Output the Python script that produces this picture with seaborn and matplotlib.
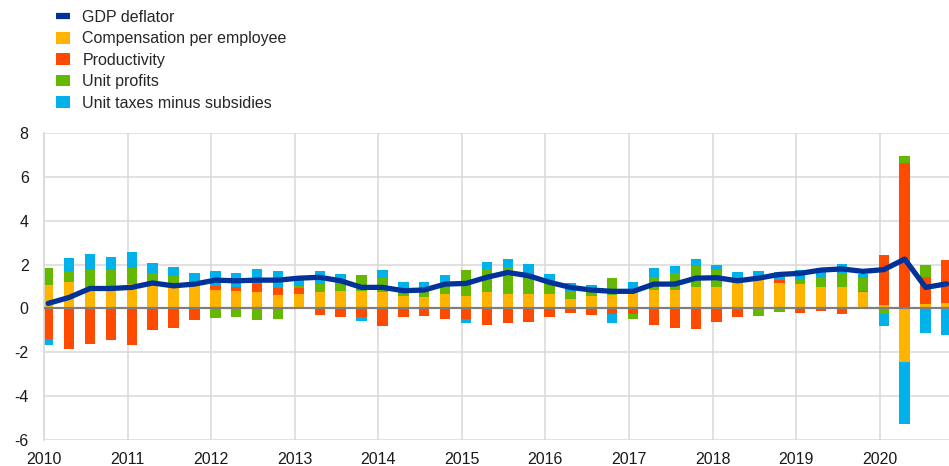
import numpy as np
import pandas as pd
import matplotlib
matplotlib.use("Agg")
import matplotlib.pyplot as plt
import seaborn as sns
from matplotlib.lines import Line2D
from matplotlib.patches import Patch

# quarterly data 2010Q1 - 2020Q4
years = list(range(2010, 2021))
quarters = [f"{y}Q{q}" for y in years for q in range(1, 5)]

gdp_deflator = [0.23, 0.50, 0.91, 0.91, 0.96, 1.16, 1.03, 1.11,
                1.29, 1.26, 1.29, 1.29, 1.38, 1.42, 1.26, 0.96,
                0.96, 0.81, 0.84, 1.11, 1.14, 1.42, 1.64, 1.49,
                1.19, 0.96, 0.84, 0.78, 0.78, 1.11, 1.11, 1.38,
                1.40, 1.26, 1.38, 1.55, 1.60, 1.75, 1.80, 1.69,
                1.77, 2.25, 0.96, 1.12]

compensation = [1.08, 1.22, 1.00, 0.95, 1.11, 1.05, 1.00, 1.10,
                0.84, 0.78, 0.76, 0.62, 0.68, 0.73, 0.81, 0.78,
                0.73, 0.58, 0.53, 0.65, 0.58, 0.73, 0.65, 0.65,
                0.65, 0.43, 0.58, 0.63, 0.73, 0.85, 0.85, 1.00,
                0.96, 1.15, 1.30, 1.16, 1.11, 1.00, 0.96, 0.73,
                0.15, -2.43, 0.20, 0.27]

productivity = [-1.40, -1.83, -1.60, -1.46, -1.66, -0.97, -0.90, -0.52,
                0.19, 0.22, 0.35, 0.31, 0.25, -0.30, -0.38, -0.38,
                -0.79, -0.41, -0.35, -0.46, -0.46, -0.76, -0.68, -0.61,
                -0.41, -0.23, -0.29, -0.26, -0.26, -0.75, -0.90, -0.92,
                -0.62, -0.41, 0.00, 0.12, -0.19, -0.14, -0.27, 0.08,
                2.29, 6.62, 1.25, 1.93]

unit_profits = [0.76, 0.50, 0.77, 0.80, 0.73, 0.55, 0.46, 0.00,
                -0.43, -0.38, -0.53, -0.46, 0.10, 0.38, 0.33, 0.73,
                0.64, 0.20, 0.25, 0.46, 1.17, 1.02, 1.22, 0.89,
                0.46, 0.38, 0.20, 0.76, -0.24, 0.57, 0.75, 0.92,
                0.79, 0.05, -0.35, -0.15, 0.18, 0.42, 0.64, 0.56,
                -0.26, 0.31, 0.53, -0.05]

unit_taxes = [-0.27, 0.58, 0.71, 0.61, 0.72, 0.49, 0.44, 0.51,
              0.66, 0.61, 0.67, 0.76, 0.39, 0.58, 0.43, -0.21,
              0.38, 0.41, 0.41, 0.43, -0.21, 0.37, 0.38, 0.48,
              0.46, 0.33, 0.29, -0.39, 0.49, 0.41, 0.35, 0.34,
              0.24, 0.45, 0.40, 0.36, 0.46, 0.41, 0.42, 0.22,
              -0.56, -2.85, -1.10, -1.17]

components = ["Compensation per employee", "Productivity", "Unit profits",
              "Unit taxes minus subsidies"]
colors = {"GDP deflator": "#003299",
          "Compensation per employee": "#FFB400",
          "Productivity": "#FF4B00",
          "Unit profits": "#65B800",
          "Unit taxes minus subsidies": "#00B1EA"}

df = pd.DataFrame({"quarter": quarters,
                   "GDP deflator": gdp_deflator,
                   "Compensation per employee": compensation,
                   "Productivity": productivity,
                   "Unit profits": unit_profits,
                   "Unit taxes minus subsidies": unit_taxes})
# decimal-year position of each quarter (bars sit just right of the year line)
df["x"] = [int(q[:4]) + (int(q[-1]) - 1) * 0.25 + 0.05 for q in df["quarter"]]

sns.set_theme(style="whitegrid")
plt.rcParams["font.family"] = ["Liberation Sans", "DejaVu Sans"]
plt.rcParams["axes.unicode_minus"] = False

fig = plt.figure(figsize=(9.49, 4.66), dpi=100)
ax = fig.add_axes([44 / 949, 1 - 440 / 466, 1 - 44 / 949, (440 - 133) / 466])

# stacked bars, positives and negatives stacked separately
pos_bottom = np.zeros(len(df))
neg_bottom = np.zeros(len(df))
for comp in components:
    vals = df[comp].to_numpy()
    pos = np.where(vals > 0, vals, 0)
    neg = np.where(vals < 0, vals, 0)
    ax.bar(df["x"], pos, bottom=pos_bottom, width=0.125, color=colors[comp],
           linewidth=0, zorder=2)
    ax.bar(df["x"], neg, bottom=neg_bottom, width=0.125, color=colors[comp],
           linewidth=0, zorder=2)
    pos_bottom += pos
    neg_bottom += neg

ax.axhline(0, color="#7f7f7f", lw=1.6, zorder=3)

sns.lineplot(data=df, x="x", y="GDP deflator", ax=ax, color=colors["GDP deflator"],
             lw=3.8, zorder=4, solid_joinstyle="round", solid_capstyle="round")

ax.set_xlim(2010, 2020.83)
ax.set_ylim(-6, 8)
ax.set_xticks(years)
ax.set_xticklabels([str(y) for y in years])
ax.set_yticks(range(-6, 9, 2))
ax.set_xlabel("")
ax.set_ylabel("")
ax.grid(True, color="#d9d9d9", lw=1.1)
ax.set_axisbelow(True)
ax.tick_params(axis="both", labelsize=11.5, colors="#1a1a1a", length=0)
ax.tick_params(axis="x", pad=9)
ax.tick_params(axis="y", pad=11)
for side, spine in ax.spines.items():
    spine.set_visible(side == "left")
    spine.set_color("#d9d9d9")
ax.set_facecolor("white")

handles = [Line2D([0], [0], color=colors["GDP deflator"], lw=4.5, solid_capstyle="butt")]
handles += [Patch(facecolor=colors[c], edgecolor="none") for c in components]
labels = ["GDP deflator"] + components
fig.legend(handles, labels, loc="upper left", bbox_to_anchor=(56 / 949, 1 - 10 / 466),
           frameon=False, fontsize=11.5, borderpad=0, borderaxespad=0,
           handlelength=0.9, handleheight=0.75, handletextpad=0.75, labelspacing=0.4)

fig.savefig("out.png", dpi=100)
